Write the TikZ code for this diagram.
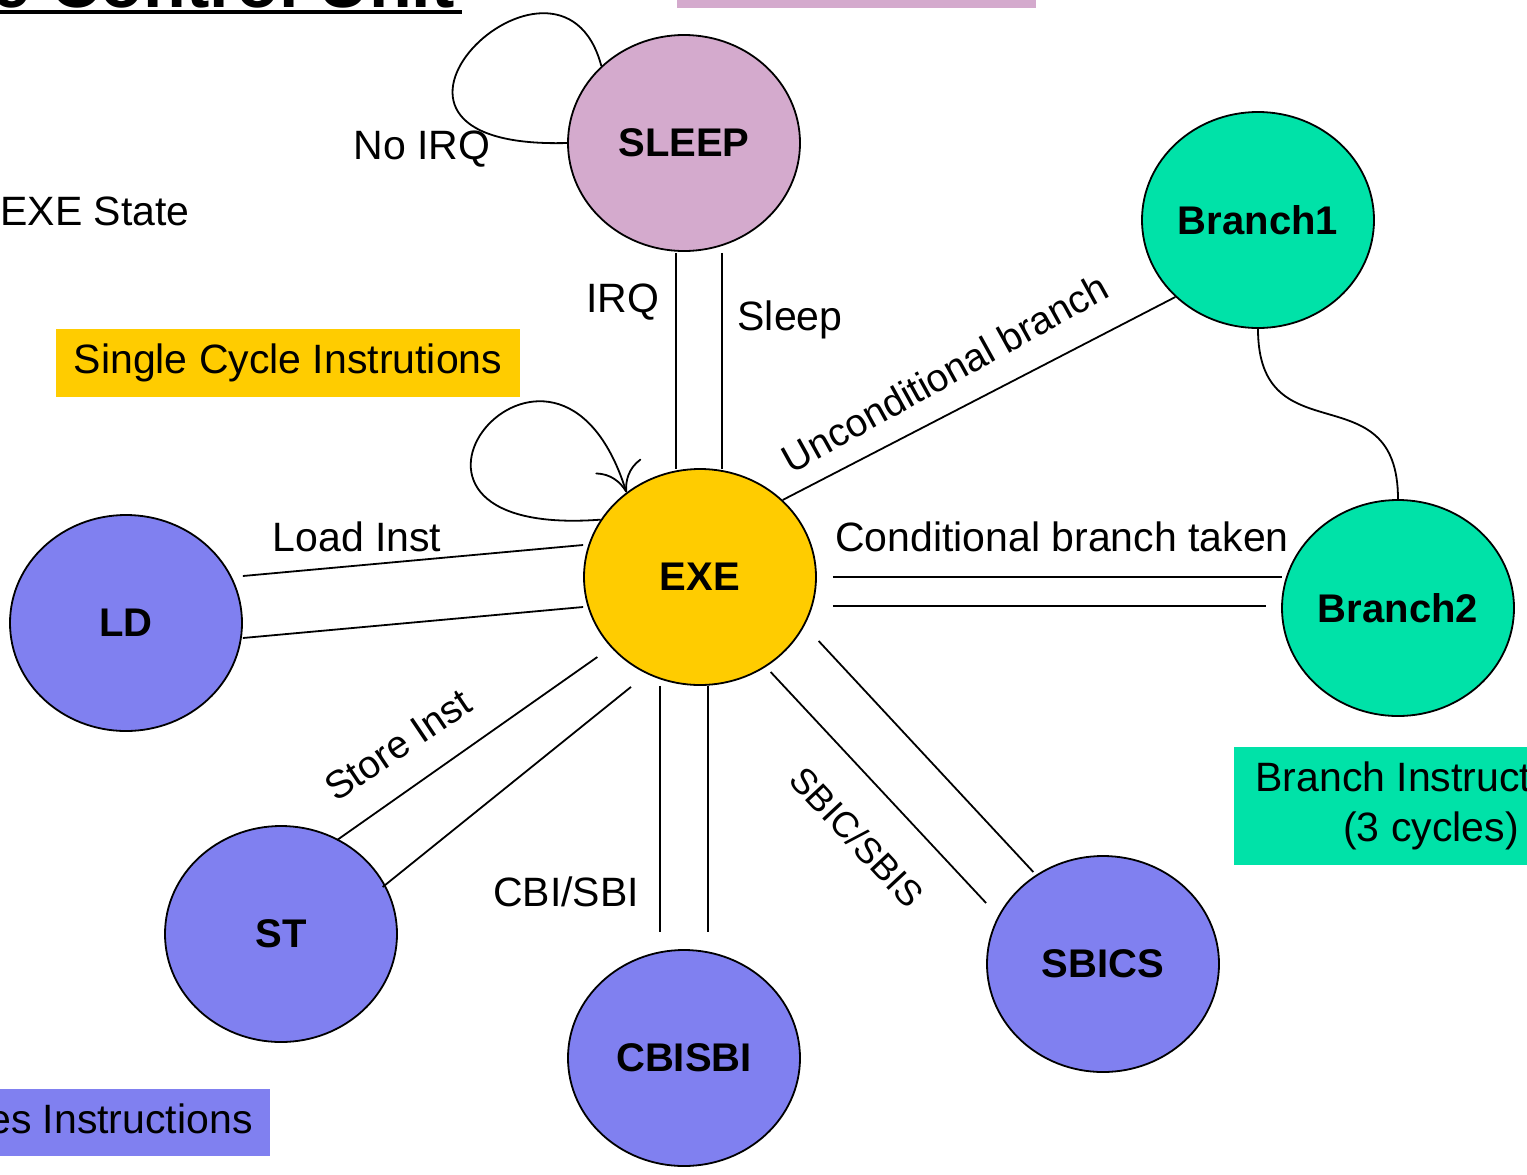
\documentclass[tikz,border=0pt]{standalone}
\usepackage{fontspec}
\setmainfont{Liberation Sans}
\usepackage{xcolor}
\usepackage{tikz}
\usetikzlibrary{shapes.geometric, arrows, arrows.meta}
\definecolor{sleeppink}{RGB}{212,170,205}
\definecolor{branchgreen}{RGB}{0,226,168}
\definecolor{memblue}{RGB}{128,128,240}
\definecolor{exeyellow}{RGB}{255,204,0}
\tikzstyle{statenode} = [ellipse, 
minimum width=116pt, 
minimum height=108pt, 
inner sep=0pt, 
draw=black, line width=0.9pt, 
font=\fontsize{20}{24}\selectfont\bfseries]
\tikzstyle{sleepstate} = [statenode, fill=sleeppink]
\tikzstyle{exestate} = [statenode, fill=exeyellow]
\tikzstyle{branchstate} = [statenode, fill=branchgreen]
\tikzstyle{memstate} = [statenode, fill=memblue]
\tikzstyle{edgelabel} = [inner sep=0pt, font=\fontsize{20.5}{24}\selectfont]
\tikzstyle{notebox} = [rectangle, 
inner sep=0pt, 
align=center, 
font=\fontsize{20.5}{25}\selectfont]
\tikzstyle{link} = [line width=0.9pt]
\tikzstyle{arrow} = [line width=0.9pt,-{Computer Modern Rightarrow[length=14pt,width=24pt]}]

\begin{document}
\begin{tikzpicture}[x=0.5pt, y=-0.5pt]
\useasboundingbox (0,0) rectangle (1527,1174);
\clip (0,0) rectangle (1527,1174);

% title and notes cut by the page
\node (title) [anchor=base east, inner sep=0pt, font=\fontsize{35}{40}\selectfont\bfseries] at (455,7) {The Control Unit};
\draw [line width=2pt] (0,12) -- (462,12);
\node (sleepnote) [notebox, anchor=south, fill=sleeppink, minimum width=179.5pt, minimum height=30pt] at (856.5,8) {};

\node (exenote) [edgelabel, anchor=west] at (0,211) {EXE State};
\node (single) [notebox, fill=exeyellow, minimum width=232pt, minimum height=34pt] at (288,363) {Single Cycle Instrutions};
\node (branchnote) [notebox, fill=branchgreen, minimum width=197pt, minimum height=59pt] at (1431,806) {Branch Instructions\\(3 cycles)};
\node (memnote) [notebox, anchor=east, fill=memblue, inner xsep=8.5pt, minimum height=33.5pt] at (270,1122.5) {2 Cycles Instructions};

% states
\node (sleep) [sleepstate] at (684,143) {SLEEP};
\node (exe) [exestate] at (700,577) {EXE};
\node (branch1) [branchstate] at (1258,220) {Branch1};
\node (branch2) [branchstate] at (1398,608) {Branch2};
\node (ld) [memstate] at (126,623) {LD};
\node (st) [memstate] at (281,934) {ST};
\node (cbisbi) [memstate] at (684,1058) {CBISBI};
\node (sbics) [memstate] at (1103,964) {SBICS};

% transitions
\draw [link] (sleep.west) .. controls (310,150) and (560,-90) .. (sleep.north west);
\draw [link] ([xshift=-4pt,yshift=-0.5pt]sleep.south) -- ([xshift=-12pt,yshift=-0.5pt]exe.north);
\draw [link] ([xshift=19pt,yshift=-0.5pt]sleep.south) -- ([xshift=11pt,yshift=-0.5pt]exe.north);
\draw [arrow] (exe.150) .. controls (330,540) and (555,265) .. (exe.131);
\draw [link] (exe.north east) -- (branch1.south west);
\draw [link] (branch1.south) to[out=-90,in=90,looseness=1.5] (branch2.north);
\draw [link] ([xshift=8pt]exe.east) -- ([xshift=0.5pt,yshift=15.5pt]branch2.west);
\draw [link] ([xshift=8pt,yshift=-14.5pt]exe.east) -- ([xshift=-7.5pt,yshift=1pt]branch2.west);
\draw [link] ([yshift=23.5pt]ld.east) -- ([yshift=16pt]exe.west);
\draw [link] ([yshift=-7.5pt]ld.east) -- ([yshift=-15pt]exe.west);
\draw [link] ([xshift=28pt,yshift=-7.5pt]st.north) -- ([xshift=-10pt,yshift=-1.5pt]exe.south west);
\draw [link] ([xshift=9.5pt,yshift=-15pt]st.north east) -- ([xshift=-34.5pt,yshift=-0.5pt]exe.south);
\draw [link] ([xshift=-20pt]exe.south) -- ([xshift=-12pt,yshift=8.5pt]cbisbi.north);
\draw [link] ([xshift=4pt]exe.south) -- ([xshift=12pt,yshift=8.5pt]cbisbi.north);
\draw [link] ([xshift=-6pt,yshift=-9pt]exe.south east) -- ([yshift=30.5pt]sbics.west);
\draw [link] ([xshift=18pt,yshift=6.5pt]exe.south east) -- ([xshift=6.5pt,yshift=7.5pt]sbics.north west);

% transition labels
\node (noirq) [edgelabel] at (422,149) {No IRQ};
\node (irq) [edgelabel] at (623,302) {IRQ};
\node (sleeplbl) [edgelabel] at (790,320) {Sleep};
\node (uncond) [edgelabel, rotate=29, font=\fontsize{19.5}{24}\selectfont] at (945,373) {Unconditional branch};
\node (cond) [edgelabel] at (1062,537) {Conditional branch taken};
\node (loadinst) [edgelabel] at (357,537) {Load Inst};
\node (storeinst) [edgelabel, rotate=34, font=\fontsize{19.5}{24}\selectfont] at (398,745) {Store Inst};
\node (cbisbilbl) [edgelabel] at (566,892) {CBI/SBI};
\node (sbicsbis) [edgelabel, rotate=-47, font=\fontsize{18}{24}\selectfont] at (857,837) {SBIC/SBIS};

\end{tikzpicture}
\end{document}
